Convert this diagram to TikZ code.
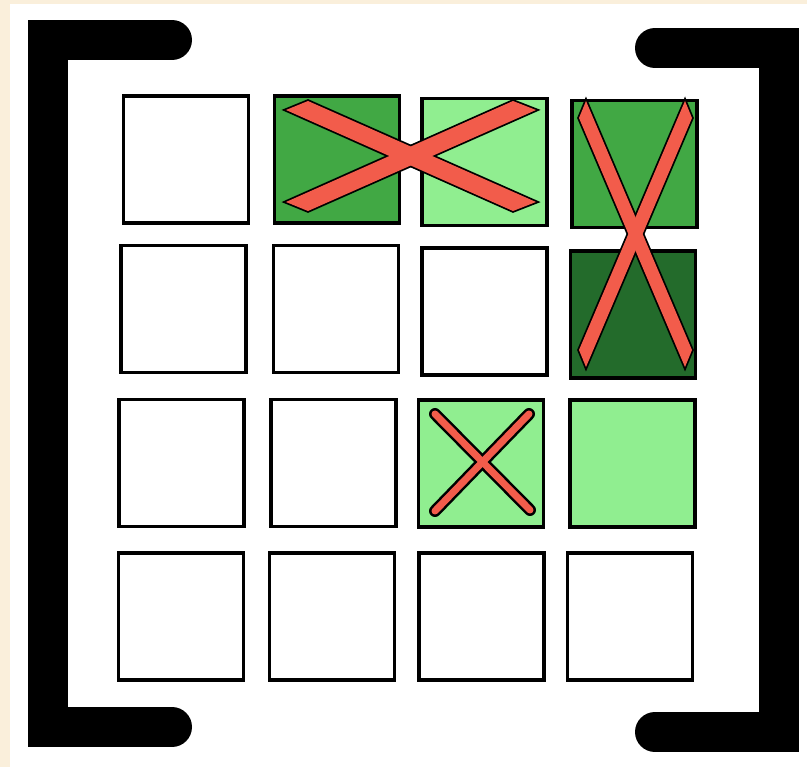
\documentclass[tikz,border=0pt]{standalone}
\definecolor{beige}{HTML}{FAEFDB}
\definecolor{gmid}{HTML}{41A844}
\definecolor{glight}{HTML}{90EE90}
\definecolor{gdark}{HTML}{236B2B}
\definecolor{xred}{HTML}{F25C4B}
\tikzset{
  sq/.style={draw=black, line width=3.5pt, minimum width=125pt, minimum height=127pt, inner sep=0pt, outer sep=0pt, fill=white},
  bracketline/.style={line width=40pt, line cap=round, line join=miter},
  xoutline/.style={draw=black, line width=3.5pt, line join=miter},
  xfill/.style={fill=xred},
}
\begin{document}
\begin{tikzpicture}[x=1pt, y=-1pt]
\useasboundingbox (0,0) rectangle (807,767);
\fill[beige] (0,0) rectangle (807,767);
\fill[white] (10,4) rectangle (807,767);
% brackets
\draw[bracketline] (172,40) -- (48,40) -- (48,727) -- (172,727);
\draw[bracketline] (655,48) -- (779,48) -- (779,732) -- (655,732);
% squares
\node[sq] (s11) at (186,159.5) {};
\node[sq, fill=gmid] (s12) at (337,159.5) {};
\node[sq, fill=glight] (s13) at (484.5,162) {};
\node[sq, fill=gmid] (s14) at (634.5,164) {};
\node[sq] (s21) at (183.5,309) {};
\node[sq] (s22) at (336,309) {};
\node[sq] (s23) at (484.5,311.5) {};
\node[sq, fill=gdark] (s24) at (633,314.5) {};
\node[sq] (s31) at (181.5,463) {};
\node[sq] (s32) at (333.5,463) {};
\node[sq, fill=glight] (s33) at (481,463.5) {};
\node[sq, fill=glight] (s34) at (632.5,463.5) {};
\node[sq] (s41) at (181,616.5) {};
\node[sq] (s42) at (332,616.5) {};
\node[sq] (s43) at (481.5,616.5) {};
\node[sq] (s44) at (630,616.5) {};
% big X over s12-s13
\draw[xoutline] (308,101) -- (536,202) -- (513,211) -- (286,110) -- cycle;
\draw[xoutline] (513,101) -- (286,202) -- (308,211) -- (536,110) -- cycle;
\fill[xfill] (308,101) -- (536,202) -- (513,211) -- (286,110) -- cycle;
\fill[xfill] (513,101) -- (286,202) -- (308,211) -- (536,110) -- cycle;
% tall X over s14-s24
\draw[xoutline] (586,101) -- (692,350) -- (685,367) -- (579,118) -- cycle;
\draw[xoutline] (685,101) -- (579,350) -- (586,367) -- (692,118) -- cycle;
\fill[xfill] (586,101) -- (692,350) -- (685,367) -- (579,118) -- cycle;
\fill[xfill] (685,101) -- (579,350) -- (586,367) -- (692,118) -- cycle;
% small X in s33
\draw[line width=12pt, line cap=round] (435,414) -- (530,510);
\draw[line width=12pt, line cap=round] (529,414) -- (435,511);
\draw[line width=7pt, line cap=round, xred] (435,414) -- (530,510);
\draw[line width=7pt, line cap=round, xred] (529,414) -- (435,511);
\end{tikzpicture}
\end{document}
